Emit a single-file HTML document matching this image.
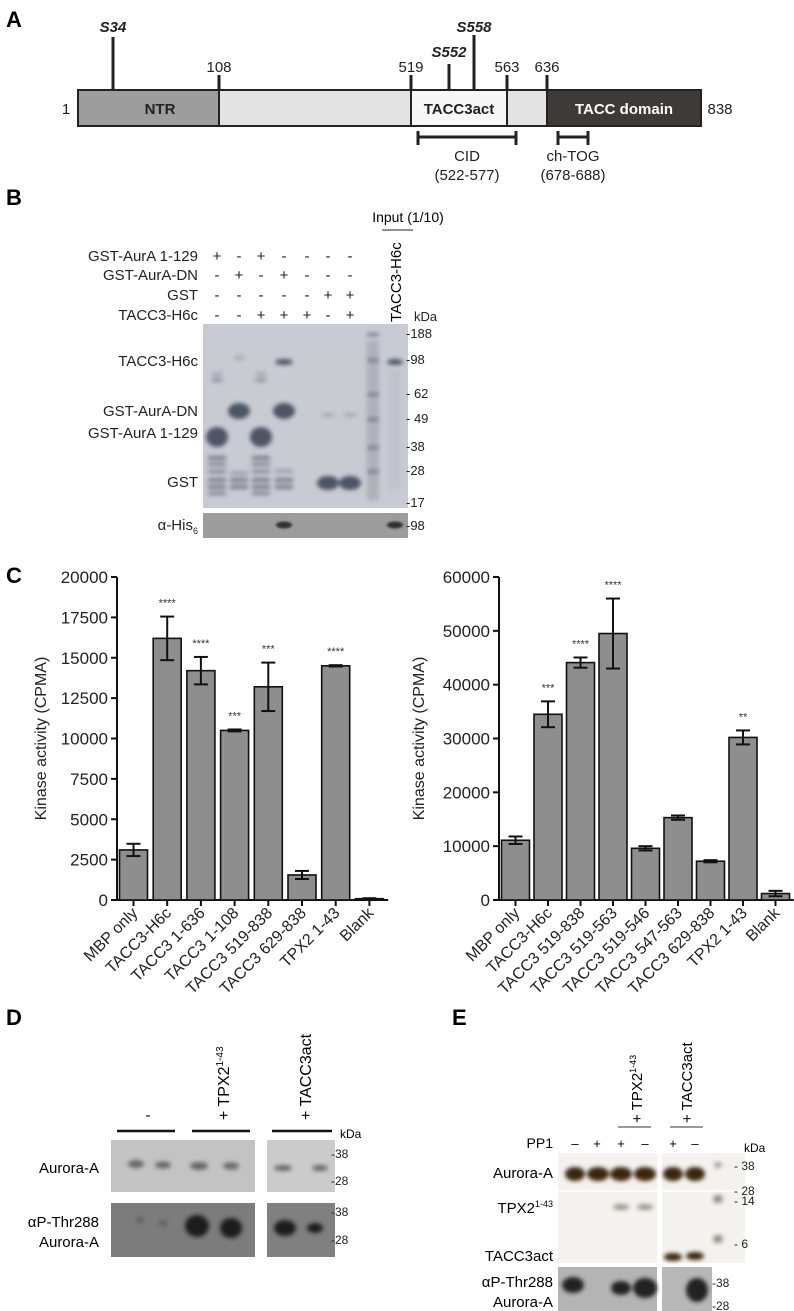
<!DOCTYPE html>
<html><head><meta charset="utf-8"><style>
body{margin:0;background:#fff}
svg{display:block;font-family:"Liberation Sans",Arial,sans-serif}
</style></head><body>
<svg id="fig" width="794" height="1311" viewBox="0 0 794 1311">
<defs><filter id="bl" x="-50%" y="-50%" width="200%" height="200%"><feGaussianBlur stdDeviation="2"/></filter>
<filter id="bl1" x="-50%" y="-50%" width="200%" height="200%"><feGaussianBlur stdDeviation="1"/></filter></defs>

<!-- Panel A -->
<g>
<text x="6" y="27" font-size="22" font-weight="bold">A</text>
<g stroke="#222" stroke-width="3">
<line x1="113" y1="37" x2="113" y2="90"/><line x1="219" y1="75" x2="219" y2="90"/>
<line x1="411" y1="75" x2="411" y2="90"/><line x1="449" y1="64" x2="449" y2="90"/>
<line x1="474" y1="35" x2="474" y2="90"/><line x1="507" y1="75" x2="507" y2="90"/>
<line x1="547" y1="75" x2="547" y2="90"/></g>
<g font-size="15" text-anchor="middle" fill="#222">
<text x="113" y="32" font-weight="bold" font-style="italic">S34</text>
<text x="219" y="72">108</text>
<text x="411" y="72">519</text>
<text x="449" y="57" font-weight="bold" font-style="italic">S552</text>
<text x="474" y="32" font-weight="bold" font-style="italic">S558</text>
<text x="507" y="72">563</text>
<text x="547" y="72">636</text>
<text x="66" y="114">1</text>
<text x="720" y="114">838</text>
</g>
<g stroke="#222" stroke-width="2">
<rect x="78" y="90" width="141" height="36" fill="#9d9d9d"/>
<rect x="219" y="90" width="192" height="36" fill="#e3e3e3"/>
<rect x="411" y="90" width="96" height="36" fill="#f7f7f7"/>
<rect x="507" y="90" width="40" height="36" fill="#e3e3e3"/>
<rect x="547" y="90" width="154" height="36" fill="#3d3a38"/>
</g>
<g font-size="15" font-weight="bold" text-anchor="middle">
<text x="160" y="114" fill="#222">NTR</text>
<text x="459" y="114" fill="#222">TACC3act</text>
<text x="624" y="114" fill="#fff">TACC domain</text></g>
<g stroke="#222" stroke-width="3">
<line x1="418" y1="137" x2="516" y2="137"/><line x1="418" y1="131" x2="418" y2="145"/><line x1="516" y1="131" x2="516" y2="145"/>
<line x1="558" y1="137" x2="588" y2="137"/><line x1="558" y1="131" x2="558" y2="145"/><line x1="588" y1="131" x2="588" y2="145"/></g>
<g font-size="15" text-anchor="middle" fill="#222">
<text x="467" y="161">CID</text><text x="467" y="180">(522-577)</text>
<text x="573" y="161">ch-TOG</text><text x="573" y="180">(678-688)</text></g>
</g>

<!-- Panel B -->
<g>
<text x="6" y="205" font-size="22" font-weight="bold">B</text>
<text x="408" y="222" font-size="14" text-anchor="middle">Input (1/10)</text>
<line x1="382" y1="230" x2="413" y2="230" stroke="#222" stroke-width="1"/>
<text transform="translate(401,322) rotate(-90)" font-size="15">TACC3-H6c</text>
<g font-size="15" text-anchor="end" fill="#222">
<text x="198" y="261">GST-AurA 1-129</text><text x="198" y="280">GST-AurA-DN</text>
<text x="198" y="300">GST</text><text x="198" y="320">TACC3-H6c</text>
<text x="198" y="366">TACC3-H6c</text><text x="198" y="416">GST-AurA-DN</text>
<text x="198" y="438">GST-AurA 1-129</text><text x="198" y="487">GST</text>
<text x="198" y="530">α-His<tspan font-size="9" dy="4">6</tspan></text></g>
<g font-size="15" text-anchor="middle" fill="#222">
<text x="217" y="261">+</text><text x="239" y="261">-</text><text x="261" y="261">+</text><text x="284" y="261">-</text><text x="307" y="261">-</text><text x="328" y="261">-</text><text x="350" y="261">-</text>
<text x="217" y="280">-</text><text x="239" y="280">+</text><text x="261" y="280">-</text><text x="284" y="280">+</text><text x="307" y="280">-</text><text x="328" y="280">-</text><text x="350" y="280">-</text>
<text x="217" y="300">-</text><text x="239" y="300">-</text><text x="261" y="300">-</text><text x="284" y="300">-</text><text x="307" y="300">-</text><text x="328" y="300">+</text><text x="350" y="300">+</text>
<text x="217" y="320">-</text><text x="239" y="320">-</text><text x="261" y="320">+</text><text x="284" y="320">+</text><text x="307" y="320">+</text><text x="328" y="320">-</text><text x="350" y="320">+</text></g>
<rect x="203" y="324" width="205" height="184" fill="#c9cbd2"/>
<g fill="#4c5466" filter="url(#bl)">
<ellipse cx="217" cy="437" rx="11" ry="10"/><ellipse cx="261" cy="437" rx="11" ry="10"/>
<ellipse cx="239" cy="411" rx="11" ry="8"/><ellipse cx="284" cy="411" rx="11" ry="8"/>
<ellipse cx="284" cy="362" rx="9" ry="3"/><ellipse cx="395" cy="362" rx="8" ry="3"/>
<ellipse cx="328" cy="483" rx="11" ry="7"/><ellipse cx="350" cy="483" rx="11" ry="7"/>
<g opacity=".65">
<rect x="208" y="456" width="18" height="4"/><rect x="208" y="463" width="18" height="3"/><rect x="208" y="470" width="18" height="3"/><rect x="208" y="478" width="18" height="4"/><rect x="208" y="485" width="18" height="4"/><rect x="208" y="492" width="18" height="3"/>
<rect x="230" y="478" width="18" height="4"/><rect x="230" y="485" width="18" height="4"/><rect x="230" y="472" width="18" height="2"/>
<rect x="252" y="456" width="18" height="4"/><rect x="252" y="463" width="18" height="3"/><rect x="252" y="470" width="18" height="3"/><rect x="252" y="478" width="18" height="4"/><rect x="252" y="485" width="18" height="4"/><rect x="252" y="492" width="18" height="3"/>
<rect x="275" y="478" width="18" height="4"/><rect x="275" y="485" width="18" height="4"/><rect x="275" y="470" width="18" height="2"/>
</g>
<ellipse cx="217" cy="380" rx="6" ry="2" opacity=".5"/><ellipse cx="261" cy="380" rx="6" ry="2" opacity=".5"/>
<ellipse cx="217" cy="374" rx="6" ry="1.5" opacity=".4"/><ellipse cx="261" cy="374" rx="6" ry="1.5" opacity=".4"/>
<ellipse cx="239" cy="358" rx="6" ry="1.5" opacity=".4"/>
<ellipse cx="328" cy="415" rx="7" ry="1.5" opacity=".4"/><ellipse cx="350" cy="415" rx="7" ry="1.5" opacity=".4"/>
<g opacity=".7"><rect x="367" y="333" width="12" height="3"/><rect x="367" y="359" width="12" height="3"/><rect x="367" y="393" width="12" height="3"/><rect x="367" y="418" width="12" height="3"/><rect x="367" y="446" width="12" height="3"/><rect x="367" y="470" width="12" height="3"/><rect x="367" y="340" width="12" height="160" opacity=".3"/></g>
<rect x="389" y="370" width="12" height="120" opacity=".08"/>
</g>
<rect x="203" y="513" width="205" height="25" fill="#9c9c9c"/>
<g fill="#333" filter="url(#bl1)"><ellipse cx="284" cy="525" rx="8" ry="3.5"/><ellipse cx="395" cy="525" rx="8" ry="3.5"/></g>
<g font-size="13" fill="#222">
<text x="414" y="321">kDa</text>
<text x="406" y="338">-188</text><text x="406" y="364">-98</text><text x="406" y="398">- 62</text><text x="406" y="423">- 49</text>
<text x="406" y="451">-38</text><text x="406" y="475">-28</text><text x="406" y="507">-17</text><text x="406" y="530">-98</text></g>
</g>

<!-- Panel C -->
<text x="6" y="583" font-size="22" font-weight="bold">C</text>
<g id="chartL"></g>
<g id="chartR"></g>

<!-- Panel D -->
<g>
<text x="6" y="1025" font-size="22" font-weight="bold">D</text>
<text x="148" y="1120" font-size="15" text-anchor="middle">-</text>
<text transform="translate(229,1120) rotate(-90)" font-size="16">+ TPX2<tspan font-size="10" dy="-6">1-43</tspan></text>
<text transform="translate(311,1120) rotate(-90)" font-size="16">+ TACC3act</text>
<g stroke="#111" stroke-width="2.5"><line x1="117" y1="1131" x2="175" y2="1131"/><line x1="192" y1="1131" x2="250" y2="1131"/><line x1="272" y1="1131" x2="332" y2="1131"/></g>
<text x="340" y="1138" font-size="12">kDa</text>
<rect x="111" y="1140" width="144" height="52" fill="#c3c3c3"/>
<rect x="267" y="1140" width="68" height="52" fill="#cbcbcb"/>
<rect x="111" y="1203" width="144" height="54" fill="#7c7c7c"/>
<rect x="267" y="1203" width="68" height="54" fill="#808080"/>
<g fill="#666" filter="url(#bl)"><ellipse cx="136" cy="1164" rx="8" ry="4"/><ellipse cx="163" cy="1165" rx="8" ry="3.5"/><ellipse cx="199" cy="1166" rx="9" ry="4"/><ellipse cx="231" cy="1166" rx="8" ry="3.5"/><ellipse cx="283" cy="1168" rx="9" ry="3"/><ellipse cx="320" cy="1168" rx="8" ry="3"/></g>
<g fill="#1a1a1a" filter="url(#bl)"><ellipse cx="197" cy="1226" rx="12" ry="11"/><ellipse cx="231" cy="1228" rx="11" ry="10"/><ellipse cx="285" cy="1228" rx="11" ry="8"/><ellipse cx="315" cy="1228" rx="8" ry="5"/><ellipse cx="140" cy="1220" rx="5" ry="3" opacity=".2"/><ellipse cx="163" cy="1223" rx="5" ry="3" opacity=".2"/></g>
<g font-size="12" fill="#222"><text x="331" y="1158">-38</text><text x="331" y="1185">-28</text><text x="331" y="1216">-38</text><text x="331" y="1244">-28</text></g>
<g font-size="15" text-anchor="end"><text x="99" y="1173">Aurora-A</text><text x="99" y="1227">αP-Thr288</text><text x="99" y="1247">Aurora-A</text></g>
</g>

<!-- Panel E -->
<g>
<text x="452" y="1025" font-size="22" font-weight="bold">E</text>
<text transform="translate(642,1123) rotate(-90)" font-size="15">+ TPX2<tspan font-size="9" dy="-6">1-43</tspan></text>
<text transform="translate(692,1123) rotate(-90)" font-size="15">+ TACC3act</text>
<g stroke="#333" stroke-width="1"><line x1="618" y1="1127" x2="651" y2="1127"/><line x1="670" y1="1127" x2="703" y2="1127"/></g>
<text x="553" y="1148" font-size="14" text-anchor="end">PP1</text>
<g font-size="13" text-anchor="middle"><text x="575" y="1148">–</text><text x="597" y="1148">+</text><text x="621" y="1148">+</text><text x="645" y="1148">–</text><text x="673" y="1148">+</text><text x="695" y="1148">–</text></g>
<text x="744" y="1152" font-size="12">kDa</text>
<rect x="558" y="1153" width="99" height="110" fill="#f4f2ee"/>
<rect x="662" y="1153" width="83" height="110" fill="#f4f2ee"/>
<line x1="558" y1="1191" x2="745" y2="1191" stroke="#fff" stroke-width="1.5"/>
<g fill="#3a2810" filter="url(#bl)"><ellipse cx="575" cy="1174" rx="10" ry="7"/><ellipse cx="598" cy="1174" rx="11" ry="7"/><ellipse cx="621" cy="1174" rx="11" ry="7"/><ellipse cx="645" cy="1174" rx="11" ry="7"/><ellipse cx="673" cy="1174" rx="10" ry="7"/><ellipse cx="695" cy="1174" rx="10" ry="7"/>
<ellipse cx="621" cy="1207" rx="8" ry="3" opacity=".45"/><ellipse cx="645" cy="1207" rx="8" ry="3" opacity=".45"/>
<ellipse cx="673" cy="1257" rx="9" ry="4"/><ellipse cx="695" cy="1256" rx="9" ry="4"/>
<ellipse cx="718" cy="1165" rx="4" ry="3" opacity=".4"/><ellipse cx="718" cy="1199" rx="5" ry="4" opacity=".5"/><ellipse cx="718" cy="1239" rx="5" ry="4" opacity=".5"/></g>
<rect x="558" y="1267" width="99" height="44" fill="#b4b4b4"/>
<rect x="662" y="1267" width="50" height="44" fill="#b8b8b8"/>
<g fill="#222" filter="url(#bl)"><ellipse cx="573" cy="1285" rx="11" ry="8"/><ellipse cx="621" cy="1288" rx="10" ry="7"/><ellipse cx="645" cy="1288" rx="12" ry="10"/><ellipse cx="697" cy="1290" rx="11" ry="12"/></g>
<g font-size="12" fill="#222"><text x="734" y="1170">- 38</text><text x="734" y="1195">- 28</text><text x="734" y="1205">- 14</text><text x="734" y="1248">- 6</text><text x="712" y="1287">-38</text><text x="712" y="1310">-28</text></g>
<g font-size="15" text-anchor="end"><text x="553" y="1178">Aurora-A</text><text x="553" y="1213">TPX2<tspan font-size="9" dy="-6">1-43</tspan></text><text x="553" y="1261">TACC3act</text><text x="553" y="1287">αP-Thr288</text><text x="553" y="1307">Aurora-A</text></g>
</g>
</svg>
<script>
const NS='http://www.w3.org/2000/svg';
// Left chart data
const catsL=['MBP only','TACC3-H6c','TACC3 1-636','TACC3 1-108','TACC3 519-838','TACC3 629-838','TPX2 1-43','Blank'];
const valsL=[3100,16200,14200,10500,13200,1550,14500,80];
const errL=[380,1350,850,60,1500,250,40,30];
const starsL=['','****','****','***','***','','****',''];
const ticksL=[0,2500,5000,7500,10000,12500,15000,17500,20000];
// Right chart data
const catsR=['MBP only','TACC3-H6c','TACC3 519-838','TACC3 519-563','TACC3 519-546','TACC3 547-563','TACC3 629-838','TPX2 1-43','Blank'];
const valsR=[11100,34500,44100,49500,9600,15300,7200,30200,1200];
const errR=[700,2400,950,6500,400,400,200,1300,500];
const starsR=['','***','****','****','','','','**',''];
const ticksR=[0,10000,20000,30000,40000,50000,60000];

function el(t,a,p){const e=document.createElementNS(NS,t);for(const k in a)e.setAttribute(k,a[k]);p.appendChild(e);return e;}
function chart(g,cats,vals,errs,stars,ticks,ax,x0,step,ymax,titleX){
  const yTop=577,yBot=900;
  const y=v=>yBot-(v/ymax)*(yBot-yTop);
  const xc=i=>x0+i*step;
  const axis=el('g',{stroke:'#111','stroke-width':2},g);
  
  
  el('line',{x1:ax,y1:yTop,x2:ax,y2:yBot+1},axis);
  el('line',{x1:ax,y1:yBot,x2:xc(cats.length-1)+step/2+2,y2:yBot},axis);
  ticks.forEach(t=>{
    el('line',{x1:ax-6,y1:y(t),x2:ax,y2:y(t)},axis);
    const tx=el('text',{x:ax-9,y:y(t)+6,'font-size':17,'text-anchor':'end',fill:'#222'},g);
    tx.textContent=t;
    
    
  });
  const tt=el('text',{transform:`translate(${titleX},${(yTop+yBot)/2}) rotate(-90)`,'font-size':16,'text-anchor':'middle',fill:'#222'},g);
  tt.textContent='Kinase activity (CPMA)';
  
  
  cats.forEach((c,i)=>{
    const cx=xc(i),bw=28;
    const r=el('rect',{x:cx-bw/2,y:y(vals[i]),width:bw,height:yBot-y(vals[i]),fill:'#8e8e8e',stroke:'#111','stroke-width':1.6},g);
    
    
    const eg=el('g',{stroke:'#111','stroke-width':2},g);
    
    
    const hi=y(vals[i]+errs[i]),lo=y(vals[i]-errs[i]);
    el('line',{x1:cx,y1:hi,x2:cx,y2:lo},eg);
    el('line',{x1:cx-7,y1:hi,x2:cx+7,y2:hi},eg);
    el('line',{x1:cx-7,y1:lo,x2:cx+7,y2:lo},eg);
    el('line',{x1:cx,y1:yBot,x2:cx,y2:yBot+6},axis);
    if(stars[i]){const s=el('text',{x:cx,y:hi-10,'font-size':11,'text-anchor':'middle',fill:'#333'},g);s.textContent=stars[i];
      
      }
    const l=el('text',{transform:`translate(${cx+5},${yBot+14}) rotate(-45)`,'font-size':16,'text-anchor':'end',fill:'#222'},g);
    l.textContent=c;
    
    
  });
}
chart(document.getElementById('chartL'),catsL,valsL,errL,starsL,ticksL,117,133.5,33.7,20000,46);
chart(document.getElementById('chartR'),catsR,valsR,errR,starsR,ticksR,499,515.5,32.5,60000,424);
</script>
</body></html>
